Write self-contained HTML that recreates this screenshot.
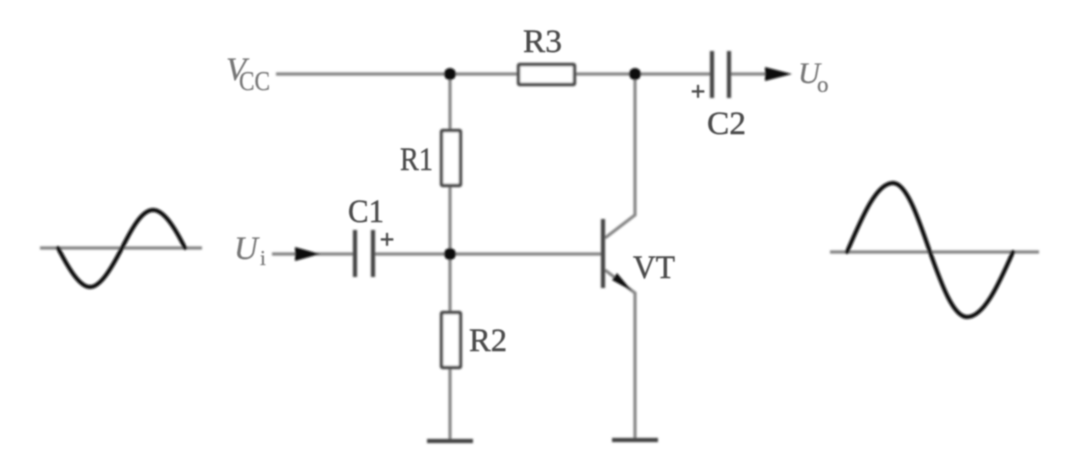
<!DOCTYPE html>
<html>
<head>
<meta charset="utf-8">
<style>
html,body{margin:0;padding:0;background:#fff;width:1080px;height:461px;overflow:hidden}
svg{display:block}
text{font-family:"Liberation Serif",serif;fill:#4c4c4c;stroke:#4c4c4c;stroke-width:.45}
text.l{fill:#777;stroke:#777;stroke-width:.3}
</style>
</head>
<body>
<svg width="1080" height="461" viewBox="0 0 1080 461" xmlns="http://www.w3.org/2000/svg">
<defs>
<filter id="b" x="-5%" y="-5%" width="110%" height="110%"><feGaussianBlur stdDeviation="0.95"/></filter>
<filter id="t" x="-20%" y="-20%" width="140%" height="140%"><feGaussianBlur stdDeviation="0.8"/></filter>
</defs>
<g filter="url(#b)">
  <!-- wires -->
  <g stroke="#858585" stroke-width="3.2" fill="none">
    <path d="M276 74H518M575 74H712M729 74H770"/>
    <path d="M450 74V130M450 185V312M450 367V441"/>
    <path d="M272 254H300M373 254H603M300 254H355"/>
    <path d="M635 74V215L605 238M605 270L635 293V440"/>
    <path d="M40 248H202"/>
    <path d="M830 252H1039"/>
  </g>
  <!-- resistors -->
  <g stroke="#4a4a4a" stroke-width="3.4" fill="#fff">
    <rect x="518.5" y="64.5" width="56" height="20" rx="1"/>
    <rect x="441.5" y="130.5" width="19" height="55" rx="1"/>
    <rect x="441.5" y="312.5" width="19" height="55" rx="1"/>
  </g>
  <!-- capacitors, grounds, transistor bar -->
  <g stroke="#444" stroke-width="4.2" fill="none">
    <path d="M712 51V98M729 51V98"/>
    <path d="M355 230V277M373 230V277"/>
    <path d="M427 441H473M612 440H658"/>
    <path d="M603 219V288"/>
  </g>
  <!-- dots -->
  <g fill="#0c0c0c">
    <circle cx="450" cy="74" r="6"/>
    <circle cx="635" cy="74" r="6"/>
    <circle cx="450" cy="254" r="6"/>
    <!-- arrowheads -->
    <path d="M765 67L792 74L765 81Z"/>
    <path d="M295 247L320 254L295 261Z"/>
    <path d="M632 291L612 280L617 273Z"/>
  </g>
  <!-- waves -->
  <g stroke="#111" stroke-width="4.2" fill="none" stroke-linecap="round">
    <path d="M58 248C68.4 268 79.4 287 90 287C100.6 287 111.6 268 122 248C132 228 142 210 153 210C164 210 175 228 185 248"/>
    <path d="M847 252C862 217 876.3 183 893 183C906.4 183 918 217 930 252C942 286 953.6 317 967 317C983.6 317 998 286 1013 252"/>
  </g>
</g>
<g filter="url(#t)">
  <text x="523" y="52" font-size="33" textLength="39" lengthAdjust="spacingAndGlyphs">R3</text>
  <text x="400" y="170" font-size="33" textLength="33" lengthAdjust="spacingAndGlyphs">R1</text>
  <text x="469" y="351" font-size="33" textLength="38" lengthAdjust="spacingAndGlyphs">R2</text>
  <text x="348" y="222" font-size="33" textLength="36" lengthAdjust="spacingAndGlyphs">C1</text>
  <text x="707" y="134" font-size="33" textLength="39" lengthAdjust="spacingAndGlyphs">C2</text>
  <text x="633" y="278" font-size="33" textLength="42" lengthAdjust="spacingAndGlyphs">VT</text>
  <text class="l" x="226" y="80" font-size="33" font-style="italic">V</text>
  <text class="l" x="239" y="90" font-size="27" textLength="31" lengthAdjust="spacingAndGlyphs">CC</text>
  <text class="l" x="234" y="259" font-size="33" font-style="italic">U</text>
  <text class="l" x="260" y="265" font-size="21">i</text>
  <text class="l" x="798" y="83" font-size="30" font-style="italic" textLength="22" lengthAdjust="spacingAndGlyphs">U</text>
  <text class="l" x="817" y="92" font-size="23">o</text>
  <text x="698" y="100" font-size="26" font-weight="bold" text-anchor="middle">+</text>
  <text x="387" y="248" font-size="26" font-weight="bold" text-anchor="middle">+</text>
</g>
</svg>
</body>
</html>
